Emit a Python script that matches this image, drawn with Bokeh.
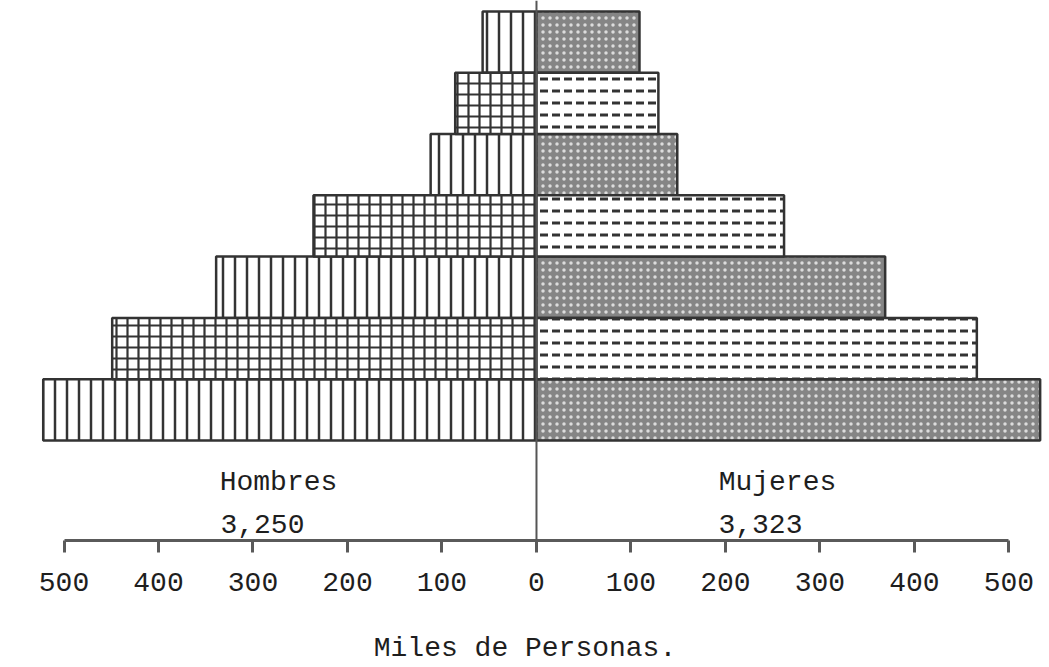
from bokeh.plotting import figure
from bokeh.models import ColumnDataSource, FixedTicker, Span, Range1d
from bokeh.core.properties import value
from bokeh.embed import file_html
from bokeh.resources import INLINE

# ---- data, bottom bar first ----
grupos = [0, 1, 2, 3, 4, 5, 6]
hombres = [522, 449, 339, 236, 112, 86, 57]
mujeres = [533, 466, 369, 262, 149, 129, 109]
ticks = [-500, -400, -300, -200, -100, 0, 100, 200, 300, 400, 500]
tick_labels = [str(abs(t)) for t in ticks]
etiquetas = ["Hombres", "Mujeres"]
totales = ["3,250", "3,323"]
titulo = "Miles de Personas."

FONT = "Liberation Mono"
INK = "#333333"
TXT = "#1e1e1e"

p = figure(width=1049, height=667, output_backend="svg", toolbar_location=None,
           x_range=Range1d(-567.2, 542.9), y_range=Range1d(-1.632, 7.179),
           y_axis_location=None, min_border_left=0, min_border_right=0,
           min_border_top=0, min_border_bottom=127)
p.background_fill_color = "white"
p.border_fill_color = "white"
p.outline_line_color = None
p.xgrid.visible = False
p.ygrid.visible = False


def src(vals, sign, parity):
    idx = [i for i in range(len(grupos)) if i % 2 == parity]
    return ColumnDataSource(dict(
        y=[grupos[i] + 0.5 for i in idx],
        left=[-vals[i] if sign < 0 else 0 for i in idx],
        right=[0 if sign < 0 else vals[i] for i in idx],
    ))


common = dict(height=1, line_color=INK, line_width=2.5)

# Hombres: vertical lines / grid alternating
p.hbar(y="y", left="left", right="right", source=src(hombres, -1, 0),
       fill_color="white", hatch_pattern="vertical_line", hatch_color=INK,
       hatch_scale=12, hatch_weight=2.5, **common)
p.hbar(y="y", left="left", right="right", source=src(hombres, -1, 1),
       fill_color="white", hatch_pattern="cross", hatch_color=INK,
       hatch_scale=11, hatch_weight=2.2, **common)

# Mujeres: stipple / dashes alternating
p.hbar(y="y", left="left", right="right", source=src(mujeres, 1, 0),
       fill_color="#858585", hatch_pattern="dot", hatch_color="#dcdcdc",
       hatch_scale=7, hatch_weight=2, **common)
p.hbar(y="y", left="left", right="right", source=src(mujeres, 1, 1),
       fill_color="white", hatch_pattern="horizontal_dash", hatch_color=INK,
       hatch_scale=12, hatch_weight=3, **common)

p.add_layout(Span(location=0, dimension="height", line_color="#555555", line_width=2))

p.text(x=[-273, 255], y=[-0.685, -0.685], text=etiquetas,
       text_font=value(FONT), text_font_size="28px", text_align="center",
       text_baseline="middle", text_color=TXT)
p.text(x=[-290, 237], y=[-1.36, -1.36], text=totales,
       text_font=value(FONT), text_font_size="28px", text_align="center",
       text_baseline="middle", text_color=TXT)

ax = p.xaxis[0]
ax.ticker = FixedTicker(ticks=ticks)
ax.major_label_overrides = {t: l for t, l in zip(ticks, tick_labels)}
ax.bounds = (ticks[0], ticks[-1])
ax.axis_line_color = "#5a5a5a"
ax.axis_line_width = 3
ax.major_tick_line_color = "#5a5a5a"
ax.major_tick_line_width = 3
ax.major_tick_out = 12
ax.major_tick_in = 0
ax.minor_tick_out = 0
ax.minor_tick_in = 0
ax.major_label_standoff = 20
ax.major_label_text_font = FONT
ax.major_label_text_font_size = "28px"
ax.major_label_text_color = TXT
ax.axis_label = titulo
ax.axis_label_standoff = 39
ax.axis_label_text_font = FONT
ax.axis_label_text_font_size = "28px"
ax.axis_label_text_font_style = "normal"
ax.axis_label_text_color = TXT

open("out.html", "w").write(file_html(p, INLINE))
